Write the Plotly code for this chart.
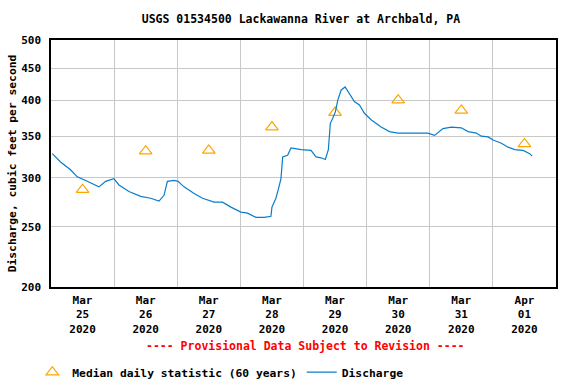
import plotly.graph_objects as go

# Discharge (cfs)
q_time = [
    "2020-03-25 00:30", "2020-03-25 03:37", "2020-03-25 07:26", "2020-03-25 09:59",
    "2020-03-25 13:47", "2020-03-25 18:13", "2020-03-25 20:46", "2020-03-25 23:55",
    "2020-03-26 01:50", "2020-03-26 05:38", "2020-03-26 10:06", "2020-03-26 13:54",
    "2020-03-26 17:04", "2020-03-26 18:58", "2020-03-26 20:15", "2020-03-26 22:47",
    "2020-03-27 00:18", "2020-03-27 02:35", "2020-03-27 06:24", "2020-03-27 09:36",
    "2020-03-27 14:01", "2020-03-27 17:13", "2020-03-27 20:23", "2020-03-28 00:11",
    "2020-03-28 02:44", "2020-03-28 05:54", "2020-03-28 09:04", "2020-03-28 11:37",
    "2020-03-28 12:00", "2020-03-28 13:31", "2020-03-28 14:24", "2020-03-28 15:26",
    "2020-03-28 16:05", "2020-03-28 17:58", "2020-03-28 19:15", "2020-03-28 23:03",
    "2020-03-29 02:51", "2020-03-29 04:45", "2020-03-29 06:40", "2020-03-29 08:18",
    "2020-03-29 09:27", "2020-03-29 09:50", "2020-03-29 10:12", "2020-03-29 11:07",
    "2020-03-29 12:07", "2020-03-29 13:02", "2020-03-29 14:17", "2020-03-29 15:49",
    "2020-03-29 17:27", "2020-03-29 19:21", "2020-03-29 21:16", "2020-03-29 23:10",
    "2020-03-30 01:42", "2020-03-30 05:31", "2020-03-30 08:41", "2020-03-30 11:53",
    "2020-03-30 16:57", "2020-03-30 23:18", "2020-03-31 01:49", "2020-03-31 05:02",
    "2020-03-31 08:11", "2020-03-31 12:00", "2020-03-31 14:33", "2020-03-31 17:43",
    "2020-03-31 19:36", "2020-03-31 22:10", "2020-04-01 00:04", "2020-04-01 03:14",
    "2020-04-01 05:47", "2020-04-01 08:18", "2020-04-01 11:30", "2020-04-01 14:01",
    "2020-04-01 14:56",
]
q_value = [
    328, 318, 309, 301,
    296, 290, 296, 299,
    292, 285, 280, 278,
    275, 281, 296, 297,
    296, 290, 283, 278,
    274, 274, 269, 264,
    263, 259, 259, 260,
    269, 278, 287, 299,
    324, 326, 335, 333,
    332, 324, 323, 321,
    333, 347, 367, 374,
    383, 400, 415, 420,
    410, 398, 393, 381,
    372, 362, 356, 354,
    354, 354, 351, 360,
    362, 361, 356, 354,
    350, 349, 345, 341,
    336, 333, 332, 328,
    325,
]

# Median daily statistic (60 years)
med_time = ["2020-03-25 12:00", "2020-03-26 12:00", "2020-03-27 12:00", "2020-03-28 12:00",
            "2020-03-29 12:00", "2020-03-30 12:00", "2020-03-31 12:00", "2020-04-01 12:00"]
med_value = [287, 331, 332, 362, 382, 400, 385, 340]

y_ticks = [200, 250, 300, 350, 400, 450, 500]

FONT = "DejaVu Sans Mono"

fig = go.Figure()
fig.add_trace(go.Scatter(
    x=med_time, y=med_value, mode="markers", name="<b>Median daily statistic (60 years)</b>",
    marker=dict(symbol="triangle-up-open", size=11, color="#FFA500", line=dict(width=1.2, color="#FFA500")),
))
fig.add_trace(go.Scatter(
    x=q_time, y=q_value, mode="lines", name="<b>Discharge</b>",
    line=dict(color="#0a7ccc", width=1.2),
))

fig.update_layout(
    width=576, height=384,
    margin=dict(l=51, r=20, t=40, b=97, autoexpand=False),
    paper_bgcolor="white", plot_bgcolor="white",
    font=dict(family=FONT, size=11, color="black"),
    title=dict(text="<b>USGS 01534500 Lackawanna River at Archbald, PA</b>",
               x=0.495, xref="paper", xanchor="center", y=1 - 19 / 384, yanchor="middle", yref="container",
               font=dict(family=FONT, size=11.5, color="black")),
    showlegend=True,
    legend=dict(orientation="h", x=-0.037, xanchor="left", y=-0.345, yanchor="middle",
                font=dict(family=FONT, size=11.3, color="black"), itemwidth=30,
                traceorder="normal", bgcolor="rgba(0,0,0,0)"),
    annotations=[dict(text="<b>---- Provisional Data Subject to Revision ----</b>",
                      xref="paper", yref="paper", x=0.503, y=-0.24, showarrow=False,
                      xanchor="center", yanchor="middle",
                      font=dict(family=FONT, size=11.5, color="#FF0000"))],
)

fig.update_xaxes(
    type="date", range=["2020-03-25 00:00", "2020-04-02 00:00"],
    dtick=86400000, tick0="2020-03-25", ticklabelmode="period",
    tickformat="<b>%b<br>%d<br>%Y</b>",
    showgrid=True, gridcolor="#c8c8c8", gridwidth=1,
    showline=True, linecolor="black", linewidth=1.5, mirror=True,
    ticks="", ticklabelstandoff=2, tickfont=dict(family=FONT, size=11, color="black"),
    zeroline=False, automargin=False,
)
fig.update_yaxes(
    type="log", range=[2.30103, 2.69897],
    tickvals=y_ticks, ticktext=[f"<b>{v}</b>" for v in y_ticks],
    showgrid=True, gridcolor="#c8c8c8", gridwidth=1,
    showline=True, linecolor="black", linewidth=1.5, mirror=True,
    ticks="", ticklabelstandoff=6, tickfont=dict(family=FONT, size=11, color="black"),
    title=dict(text="<b>Discharge, cubic feet per second</b>", standoff=2,
               font=dict(family=FONT, size=11.3, color="black")),
    zeroline=False, automargin=False,
)

fig.write_html("out.html", config={"displayModeBar": False},
               post_script="document.body.style.margin='0';document.body.style.overflow='hidden';")
